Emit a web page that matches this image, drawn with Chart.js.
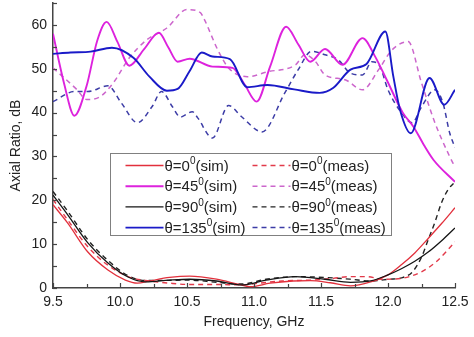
<!DOCTYPE html>
<html>
<head>
<meta charset="utf-8">
<script src="https://cdn.jsdelivr.net/npm/chart.js@4.4.0/dist/chart.umd.min.js"></script>
<style>
  html, body { margin: 0; padding: 0; background: #fff; }
  #wrap { width: 474px; height: 337px; }
</style>
</head>
<body>
<div id="wrap"><canvas id="grafico" width="474" height="337"></canvas></div>
<script>
// frecuencias (GHz) y relación axial (dB)
const f0sim = [9.5, 9.61, 9.76, 9.91, 10.04, 10.13, 10.22, 10.37, 10.52, 10.72, 10.89, 10.97, 11.12, 11.29, 11.42, 11.57, 11.72, 11.87, 12.0, 12.1, 12.2, 12.3, 12.4, 12.5];
const ar0sim = [19, 14.8, 8.2, 4.1, 1.8, 1.1, 1.6, 2.4, 2.7, 2.0, 0.8, 0.3, 1.1, 1.6, 1.7, 1.2, 0.5, 1.4, 3.0, 5.3, 8.0, 11.3, 14.7, 18.3];

const f0meas = [9.5, 9.61, 9.76, 9.91, 10.07, 10.22, 10.37, 10.52, 10.72, 10.91, 11.04, 11.21, 11.42, 11.59, 11.72, 11.84, 11.96, 12.1, 12.25, 12.36, 12.5];
const ar0meas = [20.2, 15.5, 9.4, 5.2, 2.5, 1.6, 1.1, 0.8, 0.8, 0.7, 1.1, 1.6, 1.8, 2.2, 2.6, 2.6, 2.0, 2.2, 3.7, 6.0, 10.5];

const f45sim = [9.5, 9.58, 9.66, 9.75, 9.83, 9.9, 9.98, 10.07, 10.18, 10.29, 10.36, 10.43, 10.52, 10.69, 10.84, 10.93, 11.02, 11.12, 11.24, 11.33, 11.42, 11.53, 11.66, 11.81, 11.9, 11.99, 12.11, 12.19, 12.27, 12.34, 12.5];
const ar45sim = [58, 47, 39.3, 46, 56.4, 60.7, 56.2, 50.7, 54.5, 58.2, 54.9, 51.6, 52.3, 50.5, 50.2, 46.4, 42.5, 50.5, 59.6, 55.6, 51.6, 54.5, 50.9, 57, 53, 47.5, 40, 36.8, 32.5, 29.2, 24.2];

const f45meas = [9.5, 9.68, 9.75, 9.85, 9.95, 10.07, 10.2, 10.35, 10.5, 10.6, 10.63, 10.73, 10.81, 10.95, 11.1, 11.31, 11.38, 11.46, 11.53, 11.68, 11.81, 11.93, 12.03, 12.15, 12.25, 12.35, 12.46, 12.5];
const ar45meas = [50.2, 45.2, 43, 43.6, 46.8, 52.5, 56.6, 59.3, 63.5, 62.8, 61.2, 54.3, 50.2, 48.2, 49.3, 50.9, 53.2, 51.6, 48.6, 47.5, 45.2, 49.8, 54.3, 56.2, 46.8, 37.7, 30, 27.6];

const f90sim = [9.5, 9.61, 9.76, 9.91, 10.06, 10.19, 10.37, 10.52, 10.72, 10.91, 11.09, 11.31, 11.53, 11.72, 11.87, 12.0, 12.1, 12.2, 12.3, 12.4, 12.5];
const ar90sim = [21.2, 16.7, 10.3, 5.7, 2.5, 1.4, 1.8, 2.0, 1.6, 0.7, 1.8, 2.6, 2.0, 1.3, 1.6, 3.0, 4.4, 6.1, 8.2, 10.8, 13.7];

const f90meas = [9.5, 9.61, 9.76, 9.91, 10.06, 10.2, 10.52, 10.72, 10.91, 11.09, 11.31, 11.53, 11.72, 11.87, 12.01, 12.1, 12.18, 12.25, 12.3, 12.35, 12.4, 12.45, 12.5];
const ar90meas = [22, 17.5, 11, 6.3, 2.8, 1.7, 1.8, 1.3, 0.9, 2.0, 2.6, 2.4, 2.0, 1.6, 2.0, 2.3, 3.6, 7, 11, 15, 19.5, 22.5, 24.2];

const f135sim = [9.5, 9.63, 9.78, 9.94, 10.1, 10.22, 10.35, 10.43, 10.52, 10.61, 10.69, 10.82, 10.95, 11.1, 11.3, 11.49, 11.59, 11.72, 11.84, 11.98, 12.04, 12.09, 12.17, 12.31, 12.42, 12.5];
const ar135sim = [53.4, 53.7, 53.9, 54.8, 52.5, 48.2, 45, 45.4, 49.5, 53.7, 52.8, 52.2, 45.8, 46.3, 45.3, 44.5, 45.6, 49.8, 51.1, 58.5, 48.2, 40.6, 35.3, 47.9, 41.8, 45.2];

const f135meas = [9.5, 9.66, 9.76, 9.91, 10.01, 10.13, 10.24, 10.31, 10.39, 10.45, 10.54, 10.58, 10.69, 10.81, 10.91, 11.06, 11.23, 11.33, 11.43, 11.53, 11.63, 11.72, 11.81, 11.88, 11.94, 12.0, 12.1, 12.18, 12.25, 12.35, 12.41, 12.46, 12.5];
const ar135meas = [42.5, 44.8, 44.8, 46.1, 42.2, 37.7, 41.4, 44.8, 41.4, 39, 40.2, 38.8, 34.2, 41.6, 39, 35.6, 44.5, 49.8, 54, 53.2, 52, 49, 48.6, 51.6, 50.5, 45.2, 40, 37.7, 41.3, 45.2, 42.2, 35.4, 32];

const etiquetas = ["θ=0⁰(sim)", "θ=0⁰(meas)", "θ=45⁰(sim)", "θ=45⁰(meas)", "θ=90⁰(sim)", "θ=90⁰(meas)", "θ=135⁰(sim)", "θ=135⁰(meas)"];

function puntos(fs, vs) {
  return fs.map((f, i) => ({ x: f, y: vs[i] }));
}

function serie(i, fs, vs, color, ancho, guiones, orden) {
  return {
    label: etiquetas[i],
    data: puntos(fs, vs),
    borderColor: color,
    backgroundColor: color,
    borderWidth: ancho,
    borderDash: guiones,
    pointRadius: 0,
    cubicInterpolationMode: "monotone",
    fill: false,
    order: orden
  };
}

const datasets = [
  serie(0, f0sim, ar0sim, "#e2303c", 1.3, [], 3),
  serie(1, f0meas, ar0meas, "#e23a4a", 1.4, [5, 4], 4),
  serie(2, f45sim, ar45sim, "#dd22dd", 1.9, [], 1),
  serie(3, f45meas, ar45meas, "#cc66cc", 1.5, [5, 4], 5),
  serie(4, f90sim, ar90sim, "#151515", 1.3, [], 2),
  serie(5, f90meas, ar90meas, "#222222", 1.4, [5, 4], 4),
  serie(6, f135sim, ar135sim, "#1a1ac8", 1.9, [], 0),
  serie(7, f135meas, ar135meas, "#3c3ca6", 1.5, [5, 4], 5)
];

// marcas de escala hacia dentro
const marcasPlugin = {
  id: "marcas",
  afterDraw(chart) {
    const { ctx, chartArea, scales: { x, y } } = chart;
    ctx.save();
    ctx.strokeStyle = "#444";
    ctx.lineWidth = 1.2;
    x.ticks.forEach(t => {
      const px = Math.round(x.getPixelForValue(t.value)) + 0.5;
      const largo = Math.abs(t.value * 2 - Math.round(t.value * 2)) < 1e-6 ? 5 : 4;
      ctx.beginPath();
      ctx.moveTo(px, chartArea.bottom);
      ctx.lineTo(px, chartArea.bottom - largo);
      ctx.stroke();
    });
    y.ticks.forEach(t => {
      const py = Math.round(y.getPixelForValue(t.value)) + 0.5;
      ctx.beginPath();
      ctx.moveTo(chartArea.left, py);
      ctx.lineTo(chartArea.left + 4, py);
      ctx.stroke();
    });
    ctx.restore();
  }
};

// leyenda en recuadro, dos columnas
const leyendaPlugin = {
  id: "leyenda",
  afterDatasetsDraw(chart) {
    const { ctx, scales: { x, y } } = chart;
    const izq = Math.round(x.getPixelForValue(9.925)) + 0.5;
    const der = Math.round(x.getPixelForValue(12.02)) + 0.5;
    const arr = Math.round(y.getPixelForValue(30.8)) + 0.5;
    const aba = Math.round(y.getPixelForValue(12.1)) + 0.5;
    ctx.save();
    ctx.fillStyle = "#fff";
    ctx.fillRect(izq, arr, der - izq, aba - arr);
    ctx.strokeStyle = "#808080";
    ctx.lineWidth = 1;
    ctx.strokeRect(izq, arr, der - izq, aba - arr);

    chart.data.datasets.forEach((ds, i) => {
      const col = i % 2;
      const fila = Math.floor(i / 2);
      const yy = arr + 12 + fila * 20.7;
      const x0 = izq + 15 + col * 127;
      ctx.strokeStyle = ds.borderColor;
      ctx.lineWidth = ds.borderWidth;
      ctx.setLineDash(ds.borderDash);
      ctx.beginPath();
      ctx.moveTo(x0, yy);
      ctx.lineTo(x0 + 38, yy);
      ctx.stroke();
      ctx.setLineDash([]);

      const partes = ds.label.split("⁰");
      let tx = x0 + 39;
      ctx.fillStyle = "#222";
      ctx.textBaseline = "middle";
      ctx.textAlign = "left";
      ctx.font = "15px 'Liberation Sans', Arial, sans-serif";
      ctx.fillText(partes[0], tx, yy + 1);
      tx += ctx.measureText(partes[0]).width;
      ctx.font = "10px 'Liberation Sans', Arial, sans-serif";
      ctx.fillText("0", tx, yy - 4);
      tx += ctx.measureText("0").width;
      ctx.font = "15px 'Liberation Sans', Arial, sans-serif";
      ctx.fillText(partes[1], tx, yy + 1);
    });
    ctx.restore();
  }
};

const fuente = { family: "'Liberation Sans', Arial, sans-serif", size: 14 };

const ctx = document.getElementById("grafico").getContext("2d");
const chart = new Chart(ctx, {
  type: "line",
  data: { datasets },
  options: {
    responsive: false,
    animation: false,
    devicePixelRatio: 1,
    layout: { padding: { top: 3, right: 19, left: 0, bottom: 0 } },
    plugins: {
      legend: { display: false },
      tooltip: { enabled: false }
    },
    scales: {
      x: {
        type: "linear",
        min: 9.5,
        max: 12.5,
        grid: { display: false, drawTicks: false, tickLength: 0 },
        border: { display: true, color: "#444", width: 1.5 },
        ticks: {
          stepSize: 0.25,
          autoSkip: false,
          maxRotation: 0,
          padding: 6,
          color: "#222",
          font: fuente,
          callback: v => (Math.abs(v * 2 - Math.round(v * 2)) < 1e-6 ? v.toFixed(1) : "")
        },
        title: {
          display: true,
          text: "Frequency, GHz",
          color: "#222",
          font: fuente,
          padding: { top: 0, bottom: 6 }
        },
        afterFit: s => { s.height = 49; s.paddingLeft = 0; s.paddingRight = 0; }
      },
      y: {
        min: 0,
        max: 65,
        grid: { display: false, drawTicks: false, tickLength: 0 },
        border: { display: true, color: "#444", width: 1.5 },
        ticks: {
          stepSize: 5,
          autoSkip: false,
          padding: 6,
          color: "#222",
          font: fuente,
          callback: v => (v % 10 === 0 ? v : "")
        },
        title: {
          display: true,
          text: "Axial Ratio, dB",
          color: "#222",
          font: fuente,
          padding: { top: 8, bottom: 0 }
        },
        afterFit: s => { s.width = 53; s.paddingTop = 0; s.paddingBottom = 0; }
      }
    }
  },
  plugins: [marcasPlugin, leyendaPlugin]
});
</script>
</body>
</html>
